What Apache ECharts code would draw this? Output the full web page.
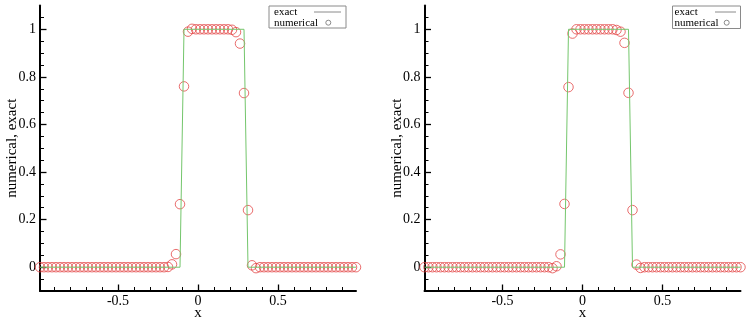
<!DOCTYPE html>
<html>
<head>
<meta charset="utf-8">
<script src="https://cdn.jsdelivr.net/npm/echarts@6/dist/echarts.min.js"></script>
<style>
html,body{margin:0;padding:0;background:#fff;}
#chart{width:748px;height:325px;}
</style>
</head>
<body>
<div id="chart"></div>
<script>
// ---- data ----
var cellX = [
  -0.9875,-0.9625,-0.9375,-0.9125,-0.8875,-0.8625,-0.8375,-0.8125,-0.7875,-0.7625,
  -0.7375,-0.7125,-0.6875,-0.6625,-0.6375,-0.6125,-0.5875,-0.5625,-0.5375,-0.5125,
  -0.4875,-0.4625,-0.4375,-0.4125,-0.3875,-0.3625,-0.3375,-0.3125,-0.2875,-0.2625,
  -0.2375,-0.2125,-0.1875,-0.1625,-0.1375,-0.1125,-0.0875,-0.0625,-0.0375,-0.0125,
  0.0125,0.0375,0.0625,0.0875,0.1125,0.1375,0.1625,0.1875,0.2125,0.2375,
  0.2625,0.2875,0.3125,0.3375,0.3625,0.3875,0.4125,0.4375,0.4625,0.4875,
  0.5125,0.5375,0.5625,0.5875,0.6125,0.6375,0.6625,0.6875,0.7125,0.7375,
  0.7625,0.7875,0.8125,0.8375,0.8625,0.8875,0.9125,0.9375,0.9625,0.9875
];
var numericalLeft = [
  0,0,0,0,0,0,0,0,0,0,
  0,0,0,0,0,0,0,0,0,0,
  0,0,0,0,0,0,0,0,0,0,
  0,0,0.001,0.012,0.055,0.265,0.76,0.99,1.002,1.0,
  1.0,1.0,1.0,1.0,1.0,1.0,1.0,1.0,0.998,0.988,
  0.94,0.732,0.24,0.008,-0.004,0,0,0,0,0,
  0,0,0,0,0,0,0,0,0,0,
  0,0,0,0,0,0,0,0,0,0
];
var numericalRight = [
  0,0,0,0,0,0,0,0,0,0,
  0,0,0,0,0,0,0,0,0,0,
  0,0,0,0,0,0,0,0,0,0,
  0,0,-0.004,0.004,0.054,0.266,0.757,0.982,1.0,1.0,
  1.0,1.0,1.0,1.0,1.0,1.0,1.0,1.0,0.997,0.99,
  0.943,0.733,0.24,0.011,-0.003,0,0,0,0,0,
  0,0,0,0,0,0,0,0,0,0,
  0,0,0,0,0,0,0,0,0,0
];
var exactX = [-0.9875, -0.1125, -0.0875, 0.2875, 0.3125, 0.9875];
var exactY = [0, 0, 1, 1, 0, 0];

var xMajorTicks = [-0.5, 0, 0.5];
var xMinorTicks = [-0.9,-0.8,-0.7,-0.6,-0.4,-0.3,-0.2,-0.1,0.1,0.2,0.3,0.4,0.6,0.7,0.8,0.9];
var yMajorTicks = [0, 0.2, 0.4, 0.6, 0.8, 1];
var yMinorTicks = [-0.05,0.05,0.1,0.15,0.25,0.3,0.35,0.45,0.5,0.55,0.65,0.7,0.75,0.85,0.9,0.95,1.05];
var xRange = [-0.9875, 0.9875];
var yRange = [-0.1, 1.1];
var seriesNames = ['exact', 'numerical'];
var xName = 'x';
var yName = 'numerical, exact';

// ---- styling / layout ----
var FONT = 'Liberation Serif';
var RED = '#e34848';
var GREEN = '#74c66c';
var panels = [
  {grid: {left: 40, top: 5.5, width: 316, height: 285.5, outerBoundsMode: 'none'}, numerical: numericalLeft,
   legend: {x: 269, y: 6, w: 77, h: 22, tx: 274, lx1: 314, lx2: 341, cx: 328.3}},
  {grid: {left: 424.5, top: 5.5, width: 316, height: 285.5, outerBoundsMode: 'none'}, numerical: numericalRight,
   legend: {x: 672.5, y: 6, w: 68, h: 22.5, tx: 674.5, lx1: 715, lx2: 736, cx: 726.7}}
];

var option = {
  backgroundColor: '#fff',
  animation: false,
  grid: [], xAxis: [], yAxis: [], series: [], graphic: []
};

panels.forEach(function (p, k) {
  option.grid.push(p.grid);
  var xi = option.xAxis.length, yi = option.yAxis.length;
  // major x axis
  option.xAxis.push({
    type: 'value', gridIndex: k, position: 'bottom', min: xRange[0], max: xRange[1],
    name: xName, nameLocation: 'middle', nameGap: 15, nameMoveOverlap: false,
    nameTextStyle: {fontFamily: FONT, fontSize: 15, color: '#000'},
    axisLine: {show: true, onZero: false, lineStyle: {color: '#000', width: 2}},
    axisTick: {show: true, inside: true, length: 6.5, customValues: xMajorTicks, lineStyle: {color: '#000', width: 1.3}},
    axisLabel: {show: true, margin: 3, customValues: xMajorTicks, fontFamily: FONT, fontSize: 14, color: '#000'},
    splitLine: {show: false}
  });
  // minor x ticks
  option.xAxis.push({
    type: 'value', gridIndex: k, position: 'bottom', min: xRange[0], max: xRange[1],
    axisLine: {show: false, onZero: false},
    axisTick: {show: true, inside: true, length: 4, customValues: xMinorTicks, lineStyle: {color: '#000', width: 1}},
    axisLabel: {show: false}, splitLine: {show: false}
  });
  // major y axis
  option.yAxis.push({
    type: 'value', gridIndex: k, position: 'left', min: yRange[0], max: yRange[1],
    name: yName, nameLocation: 'middle', nameGap: 20, nameMoveOverlap: false,
    nameTextStyle: {fontFamily: FONT, fontSize: 15, color: '#000'},
    axisLine: {show: true, onZero: false, lineStyle: {color: '#000', width: 2}},
    axisTick: {show: true, inside: true, length: 6.5, customValues: yMajorTicks, lineStyle: {color: '#000', width: 1.3}},
    axisLabel: {show: true, margin: 4, customValues: yMajorTicks, fontFamily: FONT, fontSize: 14, color: '#000'},
    splitLine: {show: false}
  });
  // minor y ticks
  option.yAxis.push({
    type: 'value', gridIndex: k, position: 'left', min: yRange[0], max: yRange[1],
    axisLine: {show: false, onZero: false},
    axisTick: {show: true, inside: true, length: 4, customValues: yMinorTicks, lineStyle: {color: '#000', width: 1}},
    axisLabel: {show: false}, splitLine: {show: false}
  });

  option.series.push({
    name: seriesNames[0], type: 'line', xAxisIndex: xi, yAxisIndex: yi,
    data: exactX.map(function (x, i) { return [x, exactY[i]]; }),
    symbol: 'none', lineStyle: {color: GREEN, width: 1}, z: 3
  });
  option.series.push({
    name: seriesNames[1], type: 'scatter', xAxisIndex: xi, yAxisIndex: yi,
    data: cellX.map(function (x, i) { return [x, p.numerical[i]]; }),
    symbol: 'circle', symbolSize: 9.5,
    itemStyle: {color: 'rgba(0,0,0,0)', borderColor: RED, borderWidth: 1}, z: 2
  });

  var L = p.legend;
  option.graphic.push(
    {type: 'rect', shape: {x: L.x, y: L.y, width: L.w, height: L.h},
     style: {fill: '#fff', stroke: '#8a8a8a', lineWidth: 1}, z: 10},
    {type: 'text', x: L.tx, y: L.y + 6.5, z: 11,
     style: {text: seriesNames[0], font: '11px "' + FONT + '"', fill: '#000', textVerticalAlign: 'middle'}},
    {type: 'text', x: L.tx, y: L.y + 16.7, z: 11,
     style: {text: seriesNames[1], font: '11px "' + FONT + '"', fill: '#000', textVerticalAlign: 'middle'}},
    {type: 'line', shape: {x1: L.lx1, y1: L.y + 6, x2: L.lx2, y2: L.y + 6}, z: 11,
     style: {stroke: '#8a8a8a', lineWidth: 1}},
    {type: 'circle', shape: {cx: L.cx, cy: L.y + 16.7, r: 2.5}, z: 11,
     style: {fill: 'none', stroke: '#8a8a8a', lineWidth: 1}}
  );
});

var chart = echarts.init(document.getElementById('chart'), null, {renderer: 'canvas'});
chart.setOption(option);
</script>
</body>
</html>
